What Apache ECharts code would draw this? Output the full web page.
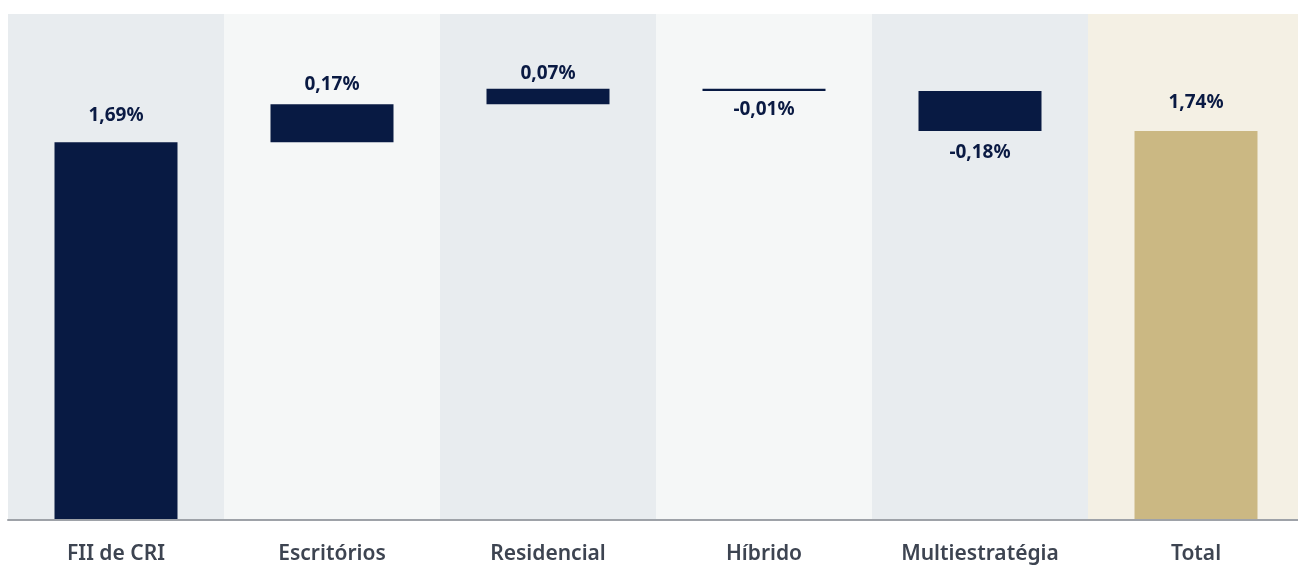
<!DOCTYPE html>
<html>
<head>
<meta charset="utf-8">
<script src="https://cdn.jsdelivr.net/npm/echarts@6/dist/echarts.min.js"></script>
<style>
html,body{margin:0;padding:0;background:#fff;overflow:hidden;width:1298px;height:570px;}
#chart{width:1304px;height:570px;}
</style>
</head>
<body>
<div id="chart"></div>
<script>
const categories = ['FII de CRI', 'Escritórios', 'Residencial', 'Híbrido', 'Multiestratégia', 'Total'];
const values = [1.69, 0.17, 0.07, -0.01, -0.18, 1.74];
const isTotal = [true, false, false, false, false, true];

const yMax = 2.264;
const bandColors = ['#e8ecef', '#f5f7f7', '#e8ecef', '#f5f7f7', '#e8ecef', '#f4f0e4'];
const labelGaps = [17, 10, 6, 9, 12, 19];

const base = [], length = [];
let running = 0;
values.forEach((v, i) => {
  if (isTotal[i]) { base.push(0); length.push(v); running = v; }
  else if (v >= 0) { base.push(running); length.push(v); running += v; }
  else { base.push(running + v); length.push(-v); running += v; }
});

const fmt = v => v.toFixed(2).replace('.', ',') + '%';

const chart = echarts.init(document.getElementById('chart'));
chart.setOption({
  animation: false,
  grid: { left: 8, top: 14, bottom: 50, right: 0 },
  xAxis: [
    {
      type: 'category', data: categories,
      axisTick: { show: false },
      axisLine: { show: true, lineStyle: { color: '#9ea2a8', width: 2 } },
      axisLabel: { color: '#3d4451', fontSize: 21, fontWeight: 600, fontFamily: 'Noto Sans', margin: 24 },
      z: 10
    },
    { type: 'category', data: categories, show: false }
  ],
  yAxis: { type: 'value', min: 0, max: yMax, show: false, splitLine: { show: false } },
  series: [
    {
      type: 'bar', xAxisIndex: 1, silent: true, barWidth: '100%', z: 0,
      data: categories.map((c, i) => ({ value: yMax, itemStyle: { color: bandColors[i] } }))
    },
    {
      type: 'bar', stack: 'wf', barWidth: 123, z: 2, silent: true,
      itemStyle: { color: 'transparent' },
      data: base
    },
    {
      type: 'bar', stack: 'wf', barWidth: 123, z: 2,
      data: length.map((l, i) => ({
        value: l,
        itemStyle: { color: isTotal[i] && i > 0 ? '#cbb883' : '#081a43' },
        label: {
          show: true,
          position: values[i] < 0 ? 'bottom' : 'top',
          distance: labelGaps[i],
          formatter: () => fmt(values[i]),
          color: '#0a1a43', fontSize: 19, fontWeight: 'bold', fontFamily: 'Noto Sans'
        }
      }))
    }
  ]
});
</script>
</body>
</html>
